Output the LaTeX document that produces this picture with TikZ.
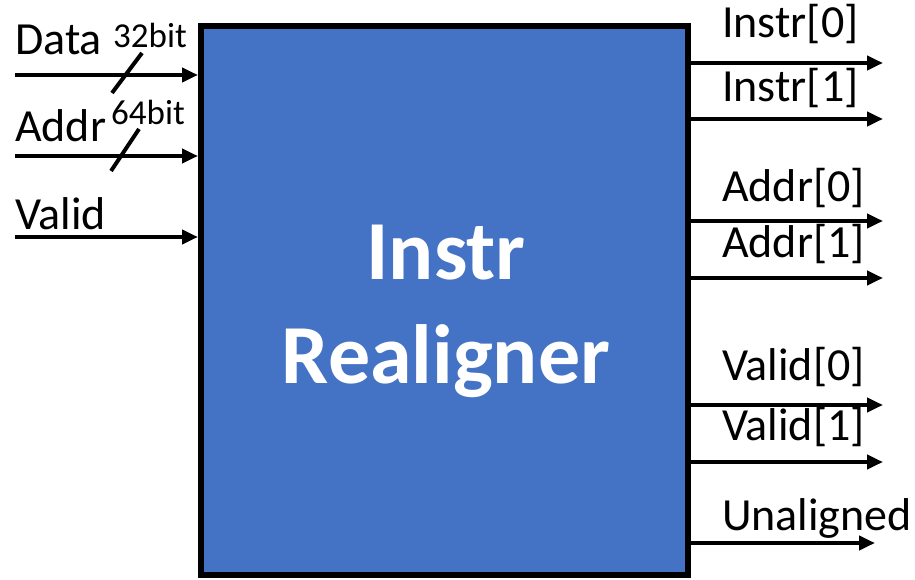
\documentclass[tikz,border=0pt]{standalone}
\usepackage{fontspec}
\setmainfont{Carlito}
\usetikzlibrary{arrows.meta}
\definecolor{blockblue}{HTML}{4472C4}
\begin{document}
\begin{tikzpicture}[x=1pt,y=1pt,
  sig/.style={line width=4pt,-{Triangle[length=16pt,width=14pt]}},
  busmark/.style={line width=4pt},
  lbl/.style={anchor=base west,inner sep=0pt,font=\fontsize{46}{52}\selectfont},
  bitlbl/.style={anchor=base west,inner sep=0pt,font=\fontsize{35}{40}\selectfont},
  title/.style={anchor=base,inner sep=0pt,text=white,font=\fontsize{84}{92}\selectfont\bfseries}]
\useasboundingbox (0,0) rectangle (915,579);

% the realigner block
\node[draw=black,line width=6pt,fill=blockblue,minimum width=487pt,minimum height=549pt,inner sep=0pt]
  (blk) at (444.5,278.5) {};
\node[title] (t1) at (446,299) {Instr};
\node[title] (t2) at (446,196) {Realigner};

% inputs
\coordinate (inData) at (15,504);
\coordinate (inAddr) at (15,423);
\coordinate (inValid) at (15,342);
\draw[sig] (inData) -- (inData -| blk.west);
\draw[sig] (inAddr) -- (inAddr -| blk.west);
\draw[sig] (inValid) -- (inValid -| blk.west);
\node[lbl] (lData) at (15,524) {Data};
\node[lbl] (lAddr) at (15,437) {Addr};
\node[lbl] (lValid) at (15,349) {Valid};

% bus width marks
\coordinate (d1) at (112,486); \coordinate (d2) at (142,526);
\coordinate (a1) at (111,408); \coordinate (a2) at (139,450);
\draw[busmark] (d1) -- (d2);
\draw[busmark] (a1) -- (a2);
\node[bitlbl] (bData) at (113,531) {32bit};
\node[bitlbl] (bAddr) at (111,454) {64bit};

% outputs
\coordinate (oI0) at (883,516);
\coordinate (oI1) at (883,460);
\coordinate (oA0) at (883,358);
\coordinate (oA1) at (883,301);
\coordinate (oV0) at (883,174);
\coordinate (oV1) at (883,117);
\coordinate (oU) at (875,36);
\foreach \c in {oI0,oI1,oA0,oA1,oV0,oV1,oU}
  \draw[sig] (blk.east |- \c) -- (\c);
\node[lbl] (lI0) at (722,541) {Instr[0]};
\node[lbl] (lI1) at (722,477) {Instr[1]};
\node[lbl] (lA0) at (722,377) {Addr[0]};
\node[lbl] (lA1) at (722,321) {Addr[1]};
\node[lbl] (lV0) at (722,199) {Valid[0]};
\node[lbl] (lV1) at (722,139) {Valid[1]};
\node[lbl] (lU) at (722,49) {Unaligned};
\end{tikzpicture}
\end{document}
